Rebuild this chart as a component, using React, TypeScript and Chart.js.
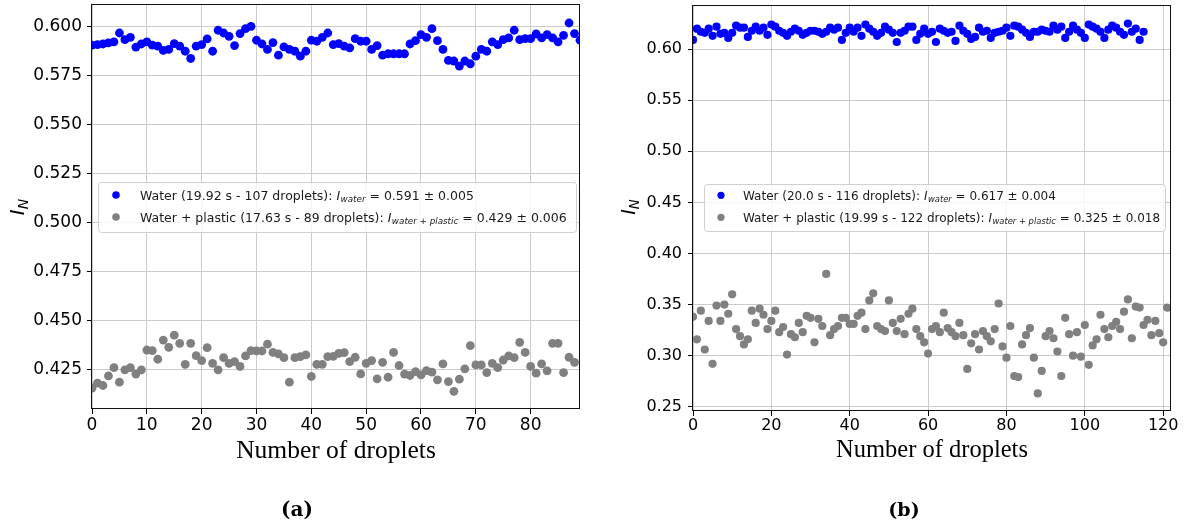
import React, { useEffect, useRef } from "react";
import { Chart, registerables } from "chart.js";

Chart.register(...registerables);

// ---------- panel (a): 0–89 droplets ----------
const waterA: number[] = [
  0.5904, 0.5907, 0.5910, 0.5916, 0.5921, 0.5966, 0.5932, 0.5944, 0.5894, 0.5910,
  0.5921, 0.5904, 0.5899, 0.5877, 0.5882, 0.5912, 0.5899, 0.5873, 0.5836, 0.5899,
  0.5907, 0.5936, 0.5873, 0.5980, 0.5966, 0.5949, 0.5902, 0.5963, 0.5988, 0.6000,
  0.5929, 0.5910, 0.5882, 0.5917, 0.5853, 0.5895, 0.5882, 0.5873, 0.5848, 0.5873,
  0.5929, 0.5924, 0.5944, 0.5966, 0.5907, 0.5912, 0.5899, 0.5890, 0.5937, 0.5924,
  0.5924, 0.5882, 0.5902, 0.5853, 0.5860, 0.5860, 0.5860, 0.5860, 0.5910, 0.5927,
  0.5958, 0.5944, 0.5988, 0.5927, 0.5882, 0.5826, 0.5823, 0.5797, 0.5823, 0.5809,
  0.5848, 0.5882, 0.5873, 0.5921, 0.5907, 0.5932, 0.5941, 0.5980, 0.5932, 0.5937,
  0.5937, 0.5961, 0.5941, 0.5958, 0.5941, 0.5921, 0.5954, 0.6017, 0.5963, 0.5929,
];
const plasticA: number[] = [
  0.4154, 0.4179, 0.4167, 0.4216, 0.4258, 0.4184, 0.4247, 0.4258, 0.4225, 0.4247,
  0.4348, 0.4345, 0.4301, 0.4399, 0.4362, 0.4424, 0.4382, 0.4275, 0.4382, 0.4319,
  0.4294, 0.4360, 0.4280, 0.4247, 0.4309, 0.4280, 0.4289, 0.4264, 0.4318, 0.4345,
  0.4343, 0.4343, 0.4378, 0.4336, 0.4328, 0.4309, 0.4184, 0.4309, 0.4314, 0.4323,
  0.4213, 0.4275, 0.4275, 0.4314, 0.4316, 0.4331, 0.4335, 0.4289, 0.4311, 0.4226,
  0.4280, 0.4294, 0.4201, 0.4285, 0.4209, 0.4336, 0.4269, 0.4225, 0.4218, 0.4238,
  0.4221, 0.4243, 0.4235, 0.4196, 0.4277, 0.4187, 0.4137, 0.4199, 0.4252, 0.4370,
  0.4272, 0.4272, 0.4233, 0.4280, 0.4258, 0.4297, 0.4318, 0.4309, 0.4387, 0.4336,
  0.4264, 0.4230, 0.4277, 0.4242, 0.4382, 0.4382, 0.4233, 0.4311, 0.4285,
];
const xTicksA = [0, 10, 20, 30, 40, 50, 60, 70, 80];
const yTicksA = [0.425, 0.45, 0.475, 0.5, 0.525, 0.55, 0.575, 0.6];
const legendA: [string, string, string][] = [
  ["Water (19.92 s - 107 droplets): ", "water", " = 0.591 ± 0.005"],
  ["Water + plastic (17.63 s - 89 droplets): ", "water + plastic", " = 0.429 ± 0.006"],
];

// ---------- panel (b): 0–122 droplets ----------
const waterB: number[] = [
  0.609, 0.620, 0.617, 0.616, 0.620, 0.613, 0.622, 0.615, 0.616, 0.611,
  0.616, 0.623, 0.621, 0.621, 0.612, 0.618, 0.622, 0.618, 0.621, 0.614,
  0.624, 0.622, 0.618, 0.616, 0.613, 0.617, 0.620, 0.618, 0.614, 0.616,
  0.618, 0.618, 0.617, 0.615, 0.617, 0.621, 0.619, 0.621, 0.609, 0.616,
  0.621, 0.617, 0.621, 0.613, 0.624, 0.620, 0.617, 0.613, 0.616, 0.622,
  0.619, 0.616, 0.607, 0.616, 0.618, 0.622, 0.622, 0.609, 0.615, 0.620,
  0.615, 0.617, 0.607, 0.620, 0.618, 0.616, 0.617, 0.608, 0.623, 0.618,
  0.615, 0.610, 0.612, 0.621, 0.617, 0.618, 0.611, 0.616, 0.617, 0.618,
  0.621, 0.613, 0.623, 0.622, 0.619, 0.616, 0.612, 0.617, 0.617, 0.619,
  0.618, 0.617, 0.623, 0.619, 0.622, 0.611, 0.617, 0.623, 0.619, 0.616,
  0.611, 0.624, 0.622, 0.620, 0.617, 0.611, 0.619, 0.623, 0.621, 0.617,
  0.614, 0.625, 0.617, 0.620, 0.609, 0.617,
];
const plasticB: number[] = [
  0.338, 0.316, 0.344, 0.306, 0.334, 0.292, 0.349, 0.334, 0.350, 0.341,
  0.360, 0.326, 0.319, 0.311, 0.316, 0.344, 0.332, 0.346, 0.340, 0.326,
  0.334, 0.344, 0.323, 0.328, 0.301, 0.321, 0.318, 0.332, 0.323, 0.339,
  0.337, 0.313, 0.336, 0.329, 0.380, 0.320, 0.326, 0.329, 0.337, 0.337,
  0.331, 0.331, 0.339, 0.342, 0.326, 0.354, 0.361, 0.329, 0.326, 0.324,
  0.354, 0.332, 0.324, 0.336, 0.321, 0.341, 0.346, 0.326, 0.319, 0.313,
  0.302, 0.326, 0.329, 0.323, 0.342, 0.327, 0.323, 0.319, 0.332, 0.320,
  0.287, 0.312, 0.321, 0.306, 0.324, 0.319, 0.314, 0.326, 0.351, 0.309,
  0.298, 0.329, 0.280, 0.279, 0.311, 0.320, 0.327, 0.298, 0.263, 0.285,
  0.319, 0.324, 0.317, 0.304, 0.280, 0.337, 0.321, 0.300, 0.323, 0.299,
  0.330, 0.291, 0.310, 0.316, 0.340, 0.326, 0.318, 0.329, 0.333, 0.326,
  0.343, 0.355, 0.317, 0.348, 0.347, 0.330, 0.335, 0.320, 0.334, 0.322,
  0.313, 0.347,
];
const xTicksB = [0, 20, 40, 60, 80, 100, 120];
const yTicksB = [0.25, 0.3, 0.35, 0.4, 0.45, 0.5, 0.55, 0.6];
const legendB: [string, string, string][] = [
  ["Water (20.0 s - 116 droplets): ", "water", " = 0.617 ± 0.004"],
  ["Water + plastic (19.99 s - 122 droplets): ", "water + plastic", " = 0.325 ± 0.018"],
];

const BLUE = "#0000ff";
const GREY = "#808080";
const GRID = "#cbcbcb";
const SANS = '"DejaVu Sans"';
const SERIF = '"Liberation Serif"';

interface Spec {
  pageLeft: number;
  width: number;
  height: number;
  area: { left: number; top: number; right: number; bottom: number };
  xMax: number;
  yMin: number;
  yMax: number;
  xTicks: number[];
  yTicks: number[];
  decimals: number;
  water: number[];
  plastic: number[];
  radius: number;
  tickFont: number;
  tickLen: number;
  yPad: number;
  xPad: number;
  legend: [string, string, string][];
  legendBox: [number, number, number, number];
  legendMarkerX: number;
  legendTextX: number;
  legendRows: number[];
  legendFont: number;
  legendDot: number;
  yTitleX: number;
  yTitleY: number;
  yTitleSize: number;
  xTitleY: number;
  xTitleSize: number;
  caption: string;
  captionX: number;
  captionY: number;
  captionSize: number;
}

const specA: Spec = {
  pageLeft: 0, width: 596, height: 526,
  area: { left: 92, top: 3, right: 580, bottom: 409 },
  xMax: 89, yMin: 0.4047, yMax: 0.6112,
  xTicks: xTicksA, yTicks: yTicksA, decimals: 3,
  water: waterA, plastic: plasticA,
  radius: 4.4, tickFont: 17, tickLen: 5, yPad: 5, xPad: 3,
  legend: legendA, legendBox: [98, 182, 478, 50],
  legendMarkerX: 116, legendTextX: 140, legendRows: [195, 217], legendFont: 12.5, legendDot: 3.8,
  yTitleX: 18.5, yTitleY: 207, yTitleSize: 20,
  xTitleY: 451, xTitleSize: 25.5,
  caption: "(a)", captionX: 297, captionY: 511, captionSize: 20,
};

const specB: Spec = {
  pageLeft: 596, width: 596, height: 526,
  area: { left: 97, top: 5, right: 575, bottom: 411 },
  xMax: 122, yMin: 0.2458, yMax: 0.6432,
  xTicks: xTicksB, yTicks: yTicksB, decimals: 2,
  water: waterB, plastic: plasticB,
  radius: 4.1, tickFont: 16, tickLen: 5, yPad: 6, xPad: 2,
  legend: legendB, legendBox: [108, 184, 461, 47],
  legendMarkerX: 125, legendTextX: 147, legendRows: [195.3, 217.3], legendFont: 12, legendDot: 3.6,
  yTitleX: 34, yTitleY: 207, yTitleSize: 19,
  xTitleY: 451, xTitleSize: 24.5,
  caption: "(b)", captionX: 308, captionY: 511, captionSize: 19,
};

function roundedRect(ctx: CanvasRenderingContext2D, x: number, y: number, w: number, h: number, r: number) {
  ctx.beginPath();
  ctx.moveTo(x + r, y);
  ctx.arcTo(x + w, y, x + w, y + h, r);
  ctx.arcTo(x + w, y + h, x, y + h, r);
  ctx.arcTo(x, y + h, x, y, r);
  ctx.arcTo(x, y, x + w, y, r);
  ctx.closePath();
}

// One legend row: plain text, italic I with an italic subscript, plain text.
function drawMathRow(ctx: CanvasRenderingContext2D, x: number, base: number, size: number, row: [string, string, string]) {
  const [pre, sub, post] = row;
  ctx.textBaseline = "alphabetic";
  ctx.textAlign = "left";
  ctx.font = `${size}px ${SANS}`;
  ctx.fillText(pre, x, base);
  x += ctx.measureText(pre).width;
  ctx.font = `italic ${size}px ${SANS}`;
  ctx.fillText("I", x, base);
  x += ctx.measureText("I").width + size * 0.04;
  ctx.font = `italic ${size * 0.7}px ${SANS}`;
  ctx.fillText(sub, x, base + size * 0.17);
  x += ctx.measureText(sub).width;
  ctx.font = `${size}px ${SANS}`;
  ctx.fillText(post, x, base);
}

function Panel({ spec }: { spec: Spec }) {
  const ref = useRef<HTMLCanvasElement | null>(null);

  useEffect(() => {
    const canvas = ref.current;
    if (!canvas) return;
    const s = spec;
    const a = s.area;

    const decor = {
      id: "decor",
      afterDatasetsDraw(chart: any) {
        const { ctx, chartArea } = chart;
        ctx.save();
        ctx.strokeStyle = "#111";
        ctx.lineWidth = 1;
        const l = Math.round(chartArea.left) - 0.5;
        const t = Math.round(chartArea.top) + 0.5;
        const r = Math.round(chartArea.right) - 0.5;
        const b = Math.round(chartArea.bottom) - 0.5;
        ctx.strokeRect(l, t, r - l, b - t);
        ctx.restore();
      },
      afterDraw(chart: any) {
        const ctx: CanvasRenderingContext2D = chart.ctx;
        ctx.save();

        // legend box
        const [bx, by, bw, bh] = s.legendBox;
        roundedRect(ctx, bx + 0.5, by + 0.5, bw, bh, 3);
        ctx.fillStyle = "rgba(255,255,255,0.8)";
        ctx.fill();
        ctx.strokeStyle = "#d0d0d0";
        ctx.lineWidth = 1;
        ctx.stroke();
        const colors = [BLUE, GREY];
        s.legend.forEach((row, i) => {
          const cy = s.legendRows[i];
          ctx.fillStyle = colors[i];
          ctx.beginPath();
          ctx.arc(s.legendMarkerX, cy, s.legendDot, 0, Math.PI * 2);
          ctx.fill();
          ctx.fillStyle = "#1a1a1a";
          drawMathRow(ctx, s.legendTextX, cy + s.legendFont * 0.36, s.legendFont, row);
        });

        // y title: I_N, rotated
        ctx.fillStyle = "#000";
        ctx.translate(s.yTitleX, s.yTitleY);
        ctx.rotate(-Math.PI / 2);
        const big = `italic ${s.yTitleSize}px ${SANS}`;
        const small = `italic ${s.yTitleSize * 0.7}px ${SANS}`;
        ctx.font = big;
        const wI = ctx.measureText("I").width;
        ctx.font = small;
        const wN = ctx.measureText("N").width;
        const start = -(wI + wN) / 2;
        ctx.textBaseline = "alphabetic";
        ctx.textAlign = "left";
        ctx.font = big;
        ctx.fillText("I", start, s.yTitleSize * 0.25);
        ctx.font = small;
        ctx.fillText("N", start + wI, s.yTitleSize * 0.25 + s.yTitleSize * 0.2);
        ctx.setTransform(1, 0, 0, 1, 0, 0);

        // x title
        ctx.textAlign = "center";
        ctx.textBaseline = "middle";
        ctx.font = `${s.xTitleSize}px ${SERIF}`;
        ctx.fillText("Number of droplets", (a.left + a.right) / 2, s.xTitleY);

        // caption
        ctx.font = `bold ${s.captionSize}px "DejaVu Serif"`;
        ctx.fillText(s.caption, s.captionX, s.captionY);
        ctx.restore();
      },
    };

    const pts = (arr: number[]) => arr.map((v, i) => ({ x: i, y: v }));
    const tickFont = { family: "DejaVu Sans", size: s.tickFont, lineHeight: 1 };

    const chart = new Chart(canvas, {
      type: "scatter",
      data: {
        datasets: [
          {
            data: pts(s.water),
            backgroundColor: BLUE,
            pointBackgroundColor: BLUE,
            borderWidth: 0,
            pointBorderWidth: 0,
            pointRadius: s.radius,
            clip: { left: 0, top: 0, right: 0, bottom: 0 },
          } as any,
          {
            data: pts(s.plastic),
            backgroundColor: GREY,
            pointBackgroundColor: GREY,
            borderWidth: 0,
            pointBorderWidth: 0,
            pointRadius: s.radius,
            clip: { left: 0, top: 0, right: 0, bottom: 0 },
          } as any,
        ],
      },
      options: {
        responsive: false,
        animation: false,
        events: [],
        layout: { padding: { left: 0, top: a.top, right: s.width - a.right, bottom: 0 } },
        plugins: { legend: { display: false }, tooltip: { enabled: false } },
        scales: {
          x: {
            type: "linear",
            min: 0,
            max: s.xMax,
            afterBuildTicks: (sc: any) => {
              sc.ticks = s.xTicks.map((v) => ({ value: v }));
            },
            afterFit: (sc: any) => {
              sc.height = s.height - a.bottom;
              sc.paddingLeft = 0;
              sc.paddingRight = 0;
            },
            ticks: {
              autoSkip: false,
              maxRotation: 0,
              color: "#000",
              font: tickFont,
              padding: s.xPad,
              callback: (v: any) => String(v),
            },
            grid: { color: GRID, lineWidth: 1, tickLength: s.tickLen, tickColor: "#000", drawTicks: true },
            border: { display: false },
          },
          y: {
            type: "linear",
            min: s.yMin,
            max: s.yMax,
            afterBuildTicks: (sc: any) => {
              sc.ticks = s.yTicks.map((v) => ({ value: v }));
            },
            afterFit: (sc: any) => {
              sc.width = a.left;
              sc.paddingTop = 0;
              sc.paddingBottom = 0;
            },
            ticks: {
              autoSkip: false,
              color: "#000",
              font: tickFont,
              padding: s.yPad,
              callback: (v: any) => Number(v).toFixed(s.decimals),
            },
            grid: { color: GRID, lineWidth: 1, tickLength: s.tickLen, tickColor: "#000", drawTicks: true },
            border: { display: false },
          },
        },
      } as any,
      plugins: [decor],
    });

    return () => chart.destroy();
  }, [spec]);

  return (
    <canvas
      ref={ref}
      width={spec.width}
      height={spec.height}
      style={{ position: "absolute", left: spec.pageLeft, top: 0, width: spec.width, height: spec.height }}
    />
  );
}

export default function App() {
  return (
    <div style={{ position: "absolute", left: 0, top: 0, width: 1192, height: 526, background: "#fff" }}>
      <Panel spec={specA} />
      <Panel spec={specB} />
    </div>
  );
}
